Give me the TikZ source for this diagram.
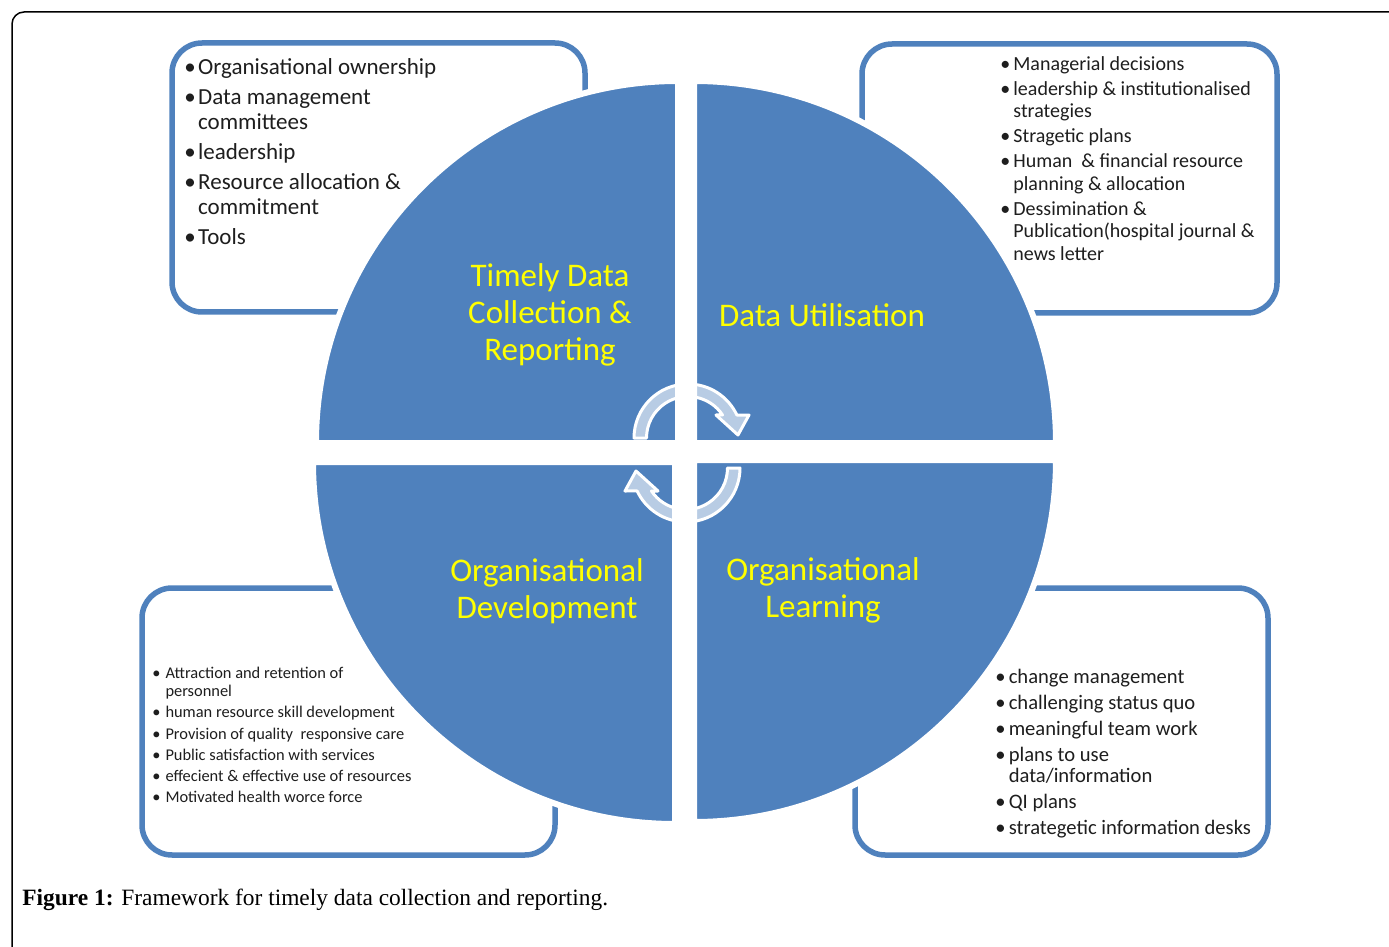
\documentclass[tikz,border=0pt]{standalone}
\usepackage{fontspec}
\setmainfont{Carlito}
\newfontfamily\capfont{Liberation Serif}
\usetikzlibrary{positioning}

\definecolor{smartblue}{RGB}{79,129,189}
\definecolor{labelyellow}{RGB}{255,255,0}
\definecolor{notetext}{RGB}{30,30,30}

% bullet and hanging indent for the lists
\newcommand{\bul}[1][0.6em]{\makebox[#1][l]{\textbullet}}
\newcommand{\cnt}[1][0.6em]{\hspace*{#1}}

\begin{document}
\begin{tikzpicture}[x=0.5pt,y=-0.5pt]
            \tikzstyle{panel}=[draw=smartblue, line width=2.75pt, rounded corners=15pt, fill=white, inner sep=0pt]
            \tikzstyle{quarter}=[fill=smartblue, draw=white, line width=3pt]
            \tikzstyle{qlabel}=[text=labelyellow, font=\fontsize{16.5}{18.5}\selectfont, align=center]
            \tikzstyle{notes}=[text=notetext, align=left, anchor=north west, inner sep=0pt]
            \tikzstyle{turn}=[fill=white, fill opacity=0.6, draw=white, draw opacity=1, line width=1.5pt, line join=round]

            \useasboundingbox (0,0) rectangle (1389,947);

            % frame
            \draw[line width=0.75pt, rounded corners=6pt] (12,947) -- (12,12) -- (1389,12);

            % boxes behind the circle
            \node[panel, minimum width=206.5pt, minimum height=134.5pt] (ownbox)   at (378.5,177.5)  {};
            \node[panel, minimum width=207.5pt, minimum height=134.5pt] (usebox)   at (1069.5,178.5) {};
            \node[panel, minimum width=206.5pt, minimum height=133.5pt] (devbox)   at (348.5,721.5)  {};
            \node[panel, minimum width=206.5pt, minimum height=133.5pt] (learnbox) at (1061.5,721.5) {};

            % the four quarters
            \path[quarter] (678,443) -- (316,443)  arc[start angle=180, end angle=270, radius=362] -- cycle;
            \path[quarter] (694,443) -- (694,81)   arc[start angle=270, end angle=360, radius=362] -- cycle;
            \path[quarter] (675,462) -- (675,824)  arc[start angle=90,  end angle=180, radius=362] -- cycle;
            \path[quarter] (694,460) -- (1056,460) arc[start angle=0,   end angle=90,  radius=362] -- cycle;

            \node[qlabel] (collect) at (550,315) {Timely Data\\Collection \&\\Reporting};
            \node[qlabel] (utilise) at (822,315) {Data Utilisation};
            \node[qlabel] (develop) at (547,591) {Organisational\\Development};
            \node[qlabel] (learn)   at (823,590) {Organisational\\Learning};

            % circular arrows
            \begin{scope}[shift={(688,438)}]
                \path[turn] (180:54) arc[start angle=180, end angle=334.8, radius=54]
                    -- (61,-23) -- (50,-3) -- (28,-23)
                    -- (326.3:41.5) arc[start angle=326.3, end angle=180, radius=41.5] -- cycle;
            \end{scope}
            \begin{scope}[shift={(686,468)}, rotate=180]
                \path[turn] (180:54) arc[start angle=180, end angle=334.8, radius=54]
                    -- (61,-23) -- (50,-3) -- (28,-23)
                    -- (326.3:41.5) arc[start angle=326.3, end angle=180, radius=41.5] -- cycle;
            \end{scope}

            % lists
            \node[notes, font=\fontsize{11.5}{12.5}\selectfont] (ownlist) at (184,58)
                {\bul Organisational ownership\\[2.5pt]
                 \bul Data management\\
                 \cnt committees\\[2.5pt]
                 \bul leadership\\[2.5pt]
                 \bul Resource allocation \&\\
                 \cnt commitment\\[2.5pt]
                 \bul Tools};
            \node[notes, font=\fontsize{10}{11.25}\selectfont] (uselist) at (1000,56)
                {\bul[0.65em]Managerial decisions\\[1.25pt]
                 \bul[0.65em]leadership \& institutionalised\\
                 \cnt[0.65em]strategies\\[1.25pt]
                 \bul[0.65em]Stragetic plans\\[1.25pt]
                 \bul[0.65em]Human~ \& financial resource\\
                 \cnt[0.65em]planning \& allocation\\[1.25pt]
                 \bul[0.65em]Dessimination \&\\
                 \cnt[0.65em]Publication(hospital journal \&\\
                 \cnt[0.65em]news letter};
            \node[notes, font=\fontsize{8.2}{9}\selectfont] (devlist) at (152,667)
                {\bul[0.8em]Attraction and retention of\\
                 \cnt[0.8em]personnel\\[1.6pt]
                 \bul[0.8em]human resource skill development\\[1.6pt]
                 \bul[0.8em]Provision of quality~ responsive care\\[1.6pt]
                 \bul[0.8em]Public satisfaction with services\\[1.6pt]
                 \bul[0.8em]effecient \& effective use of resources\\[1.6pt]
                 \bul[0.8em]Motivated health worce force};
            \node[notes, font=\fontsize{10.3}{10.5}\selectfont] (learnlist) at (995,669)
                {\bul[0.65em]change management\\[2.5pt]
                 \bul[0.65em]challenging status quo\\[2.5pt]
                 \bul[0.65em]meaningful team work\\[2.5pt]
                 \bul[0.65em]plans to use\\
                 \cnt[0.65em]data/information\\[2.5pt]
                 \bul[0.65em]QI plans\\[2.5pt]
                 \bul[0.65em]strategetic information desks};

            \node[anchor=base west, inner sep=0pt, font=\capfont\fontsize{11.7}{13}\selectfont] (caption) at (22,905)
                {\textbf{Figure 1:} Framework for timely data collection and reporting.};
        \end{tikzpicture}
\end{document}
